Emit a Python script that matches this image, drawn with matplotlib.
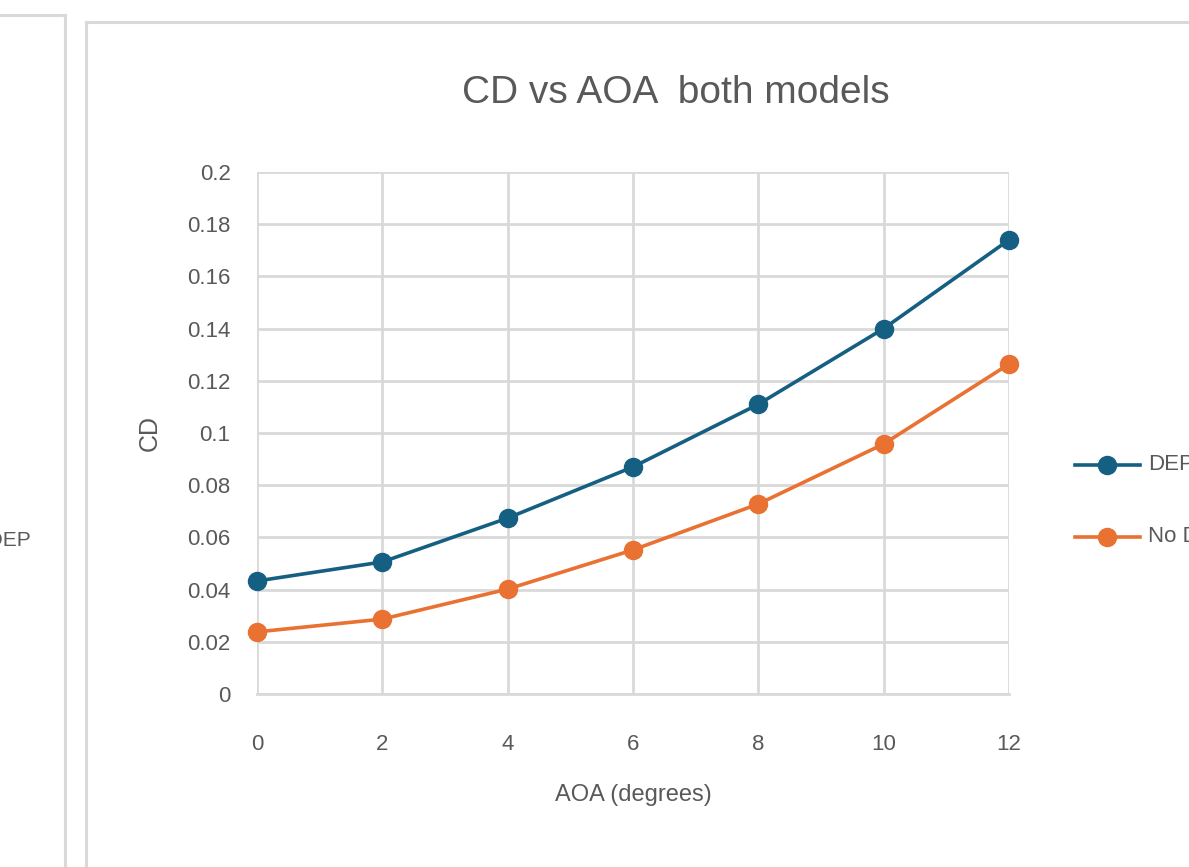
import matplotlib
matplotlib.use("Agg")
import matplotlib.pyplot as plt
from matplotlib.lines import Line2D
from matplotlib import font_manager

names = {f.name for f in font_manager.fontManager.ttflist}
FONT = "Liberation Sans Narrow" if "Liberation Sans Narrow" in names else "Liberation Sans"
plt.rcParams['font.family'] = [FONT, 'DejaVu Sans']

aoa = [0, 2, 4, 6, 8, 10, 12]
cd_dep = [0.0433, 0.0506, 0.0674, 0.0870, 0.1110, 0.1400, 0.1740]
cd_nodep = [0.0238, 0.0287, 0.0402, 0.0552, 0.0728, 0.0958, 0.1264]
series_names = ["DEP", "No DEP"]
yticks = [0, 0.02, 0.04, 0.06, 0.08, 0.1, 0.12, 0.14, 0.16, 0.18, 0.2]
ytick_labels = ["0", "0.02", "0.04", "0.06", "0.08", "0.1", "0.12", "0.14", "0.16", "0.18", "0.2"]
xticks = [0, 2, 4, 6, 8, 10, 12]

BLUE = "#156082"
ORANGE = "#E97132"
GRID = "#d9d9d9"
TXT = "#595959"

W, H = 1189, 867
fig = plt.figure(figsize=(W / 100, H / 100), dpi=100)
fig.patch.set_facecolor("white")

# panel frames (cropped screenshot look)
fig.add_artist(Line2D([65 / W, 65 / W], [0, 1 - 15 / H], color=GRID, lw=2.2, transform=fig.transFigure))
fig.add_artist(Line2D([0, 65 / W], [1 - 15 / H, 1 - 15 / H], color=GRID, lw=2.2, transform=fig.transFigure))
fig.add_artist(Line2D([86 / W, 86 / W], [0, 1 - 22 / H], color=GRID, lw=2.2, transform=fig.transFigure))
fig.add_artist(Line2D([86 / W, 1.0], [1 - 22 / H, 1 - 22 / H], color=GRID, lw=2.2, transform=fig.transFigure))

# leftover legend text of neighbouring chart
fig.text(31 / W, 1 - 540 / H, "No DEP", ha="right", va="center", fontsize=15, color=TXT)

ax = fig.add_axes([257 / W, 1 - 694 / H, (1009 - 257) / W, (694 - 172) / H])
ax.plot(aoa, cd_dep, color=BLUE, lw=2.6, marker="o", ms=13, label=series_names[0], clip_on=False, zorder=3)
ax.plot(aoa, cd_nodep, color=ORANGE, lw=2.6, marker="o", ms=13, label=series_names[1], clip_on=False, zorder=3)

ax.set_xlim(0, 12)
ax.set_ylim(0, 0.2)
ax.set_xticks(xticks)
ax.set_xticklabels([str(v) for v in xticks])
ax.set_yticks(yticks)
ax.set_yticklabels(ytick_labels)
ax.grid(True, color=GRID, lw=2.0)
ax.set_axisbelow(True)
for s in ["top", "right", "left"]:
    ax.spines[s].set_visible(False)
ax.spines["bottom"].set_color(GRID)
ax.spines["bottom"].set_linewidth(2.0)
ax.tick_params(length=0, labelsize=16, labelcolor=TXT)
ax.tick_params(axis="y", pad=19)
ax.tick_params(axis="x", pad=29)

ax.set_title("CD vs AOA  both models", fontsize=28, color=TXT, pad=50, x=(676 - 257) / (1009 - 257))
ax.set_xlabel("AOA (degrees)", fontsize=17, color=TXT, labelpad=21)
ax.set_ylabel("CD", fontsize=18, color=TXT, labelpad=18)

# legend (cut by right edge)
for yy, c, name in [(465, BLUE, series_names[0]), (537, ORANGE, series_names[1])]:
    fig.add_artist(Line2D([1075 / W, 1140 / W], [1 - yy / H] * 2, color=c, lw=2.6, transform=fig.transFigure))
    fig.add_artist(Line2D([1107 / W], [1 - yy / H], color=c, marker="o", ms=13, transform=fig.transFigure))
    fig.text(1148 / W, 1 - yy / H, name, ha="left", va="center", fontsize=16, color=TXT)

fig.savefig("out.png", dpi=100, facecolor="white")
